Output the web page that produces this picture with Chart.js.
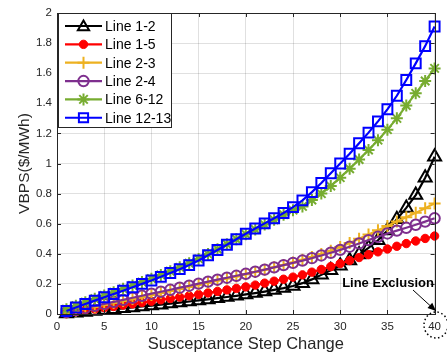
<!DOCTYPE html>
<html><head><meta charset="utf-8">
<script src="https://cdn.jsdelivr.net/npm/chart.js@4.4.0/dist/chart.umd.min.js"></script>
<style>html,body{margin:0;padding:0;background:#fff}#wrap{width:447px;height:356px;position:relative}</style>
</head><body><div id="wrap"><canvas id="c" width="447" height="356"></canvas></div>
<script>
const steps = [1,2,3,4,5,6,7,8,9,10,11,12,13,14,15,16,17,18,19,20,21,22,23,24,25,26,27,28,29,30,31,32,33,34,35,36,37,38,39,40];
const seriesNames = ['Line 1-2','Line 1-5','Line 2-3','Line 2-4','Line 6-12','Line 12-13'];
const line12 = [0.004,0.009,0.014,0.02,0.026,0.032,0.038,0.044,0.05,0.056,0.062,0.069,0.076,0.083,0.09,0.097,0.105,0.113,0.121,0.13,0.139,0.149,0.16,0.172,0.186,0.205,0.23,0.26,0.29,0.32,0.355,0.395,0.44,0.49,0.555,0.63,0.705,0.79,0.905,1.045];
const line15 = [0.008,0.016,0.025,0.033,0.042,0.05,0.059,0.067,0.076,0.085,0.094,0.103,0.112,0.121,0.13,0.14,0.15,0.16,0.17,0.18,0.192,0.205,0.218,0.231,0.245,0.26,0.278,0.296,0.315,0.335,0.355,0.375,0.394,0.413,0.432,0.45,0.468,0.485,0.502,0.518];
const line23 = [0.008,0.021,0.034,0.047,0.06,0.073,0.086,0.099,0.112,0.126,0.139,0.152,0.166,0.18,0.194,0.208,0.222,0.236,0.25,0.264,0.279,0.294,0.31,0.326,0.343,0.36,0.378,0.398,0.42,0.445,0.472,0.5,0.528,0.556,0.585,0.615,0.643,0.672,0.703,0.735];
const line24 = [0.012,0.026,0.04,0.054,0.067,0.081,0.094,0.108,0.121,0.135,0.148,0.161,0.175,0.188,0.202,0.215,0.228,0.241,0.254,0.267,0.281,0.295,0.31,0.325,0.34,0.355,0.371,0.389,0.407,0.426,0.447,0.469,0.491,0.513,0.535,0.554,0.573,0.593,0.614,0.636];
const line612 = [0.032,0.055,0.078,0.101,0.123,0.145,0.167,0.19,0.212,0.235,0.259,0.284,0.31,0.337,0.366,0.398,0.43,0.463,0.497,0.53,0.562,0.594,0.626,0.66,0.69,0.715,0.757,0.80,0.85,0.906,0.965,1.027,1.09,1.155,1.225,1.30,1.385,1.466,1.548,1.632];
const line1213 = [0.02,0.043,0.066,0.089,0.111,0.133,0.155,0.178,0.2,0.223,0.247,0.272,0.298,0.325,0.355,0.39,0.425,0.46,0.497,0.533,0.568,0.602,0.636,0.671,0.71,0.755,0.81,0.87,0.935,1.0,1.065,1.135,1.205,1.28,1.36,1.45,1.555,1.665,1.78,1.91];
const xTicks = [0,5,10,15,20,25,30,35,40];
const yTicks = [0,0.2,0.4,0.6,0.8,1,1.2,1.4,1.6,1.8,2];

const FONT = '"Liberation Sans", Arial, sans-serif';
const TXT = '#262626';
const styles = [
  {color:'#000000', marker:'triangle', r:7.5, fill:'rgba(0,0,0,0)', bw:2},
  {color:'#ff0000', marker:'circle', r:4.2, fill:'#ff0000', bw:1},
  {color:'#EDB120', marker:'cross', r:6, fill:'rgba(0,0,0,0)', bw:2},
  {color:'#7E2F8E', marker:'circle', r:5.2, fill:'rgba(0,0,0,0)', bw:2},
  {color:'#77AC30', marker:'star', r:6, fill:'rgba(0,0,0,0)', bw:2},
  {color:'#0000ff', marker:'rect', r:7, fill:'rgba(0,0,0,0)', bw:2}
];
const allSeries = [line12, line15, line23, line24, line612, line1213];

const datasets = allSeries.map((vals, i) => ({
  label: seriesNames[i],
  data: steps.map((s, k) => ({x: s, y: vals[k]})),
  borderColor: styles[i].color,
  backgroundColor: styles[i].color,
  borderWidth: 2.2,
  pointStyle: styles[i].marker,
  pointRadius: styles[i].r,
  pointBorderWidth: styles[i].bw,
  pointBorderColor: styles[i].color,
  pointBackgroundColor: styles[i].fill,
  pointHoverRadius: styles[i].r,
  tension: 0,
  clip: false,
  order: 6 - i
}));

function drawMarker(ctx, st, x, y) {
  const r = st.r;
  ctx.save();
  ctx.strokeStyle = st.color; ctx.fillStyle = st.fill; ctx.lineWidth = st.bw;
  ctx.beginPath();
  if (st.marker === 'triangle') {
    ctx.moveTo(x, y - r); ctx.lineTo(x + r*0.866, y + r*0.5); ctx.lineTo(x - r*0.866, y + r*0.5); ctx.closePath();
    ctx.fill(); ctx.stroke();
  } else if (st.marker === 'circle') {
    ctx.arc(x, y, r, 0, Math.PI*2); ctx.fill(); ctx.stroke();
  } else if (st.marker === 'cross') {
    ctx.moveTo(x - r, y); ctx.lineTo(x + r, y); ctx.moveTo(x, y - r); ctx.lineTo(x, y + r); ctx.stroke();
  } else if (st.marker === 'star') {
    for (let a = 0; a < 4; a++) { const t = a*Math.PI/4; ctx.moveTo(x - r*Math.cos(t), y - r*Math.sin(t)); ctx.lineTo(x + r*Math.cos(t), y + r*Math.sin(t)); }
    ctx.stroke();
  } else if (st.marker === 'rect') {
    const s = r*Math.SQRT1_2; ctx.rect(x - s, y - s, 2*s, 2*s); ctx.stroke();
  }
  ctx.restore();
}

const decor = {
  id: 'decor',
  afterDraw(chart) {
    const ctx = chart.ctx, a = chart.chartArea;
    const xs = chart.scales.x, ys = chart.scales.y;
    ctx.save();
    ctx.strokeStyle = TXT; ctx.lineWidth = 1;
    ctx.strokeRect(Math.round(a.left)+0.5, Math.round(a.top)+0.5, Math.round(a.right-a.left), Math.round(a.bottom-a.top));
    ctx.beginPath();
    xTicks.forEach(v => { const p = Math.round(xs.getPixelForValue(v))+0.5; ctx.moveTo(p, a.bottom); ctx.lineTo(p, a.bottom-4); ctx.moveTo(p, a.top); ctx.lineTo(p, a.top+4); });
    yTicks.forEach(v => { const p = Math.round(ys.getPixelForValue(v))+0.5; ctx.moveTo(a.left, p); ctx.lineTo(a.left+4, p); ctx.moveTo(a.right, p); ctx.lineTo(a.right-4, p); });
    ctx.stroke();
    // legend
    const lx = 58.5, ly = 13.5, lw = 113, lh = 114;
    ctx.fillStyle = '#fff'; ctx.fillRect(lx, ly, lw, lh);
    ctx.strokeStyle = '#262626'; ctx.lineWidth = 1; ctx.strokeRect(lx, ly, lw, lh);
    ctx.font = '14px ' + FONT; ctx.textBaseline = 'middle'; ctx.textAlign = 'left';
    seriesNames.forEach((name, i) => {
      const y = 26 + i*18.35;
      const st = Object.assign({}, styles[i], {r: Math.min(styles[i].r, 6.5)});
      ctx.strokeStyle = st.color; ctx.lineWidth = 2.2;
      ctx.beginPath(); ctx.moveTo(65, y); ctx.lineTo(102, y); ctx.stroke();
      drawMarker(ctx, st, 83.5, y + (st.marker==='triangle'?1:0));
      ctx.fillStyle = '#000'; ctx.fillText(name, 105, y + 1);
    });
    // annotation
    ctx.fillStyle = '#000'; ctx.font = 'bold 13px ' + FONT; ctx.textAlign = 'center';
    ctx.fillText('Line Exclusion', 388, 283);
    ctx.strokeStyle = '#000'; ctx.lineWidth = 1;
    const x1 = 413, y1 = 290, x2 = 436, y2 = 311;
    ctx.beginPath(); ctx.moveTo(x1, y1); ctx.lineTo(x2, y2); ctx.stroke();
    const ang = Math.atan2(y2-y1, x2-x1);
    ctx.beginPath(); ctx.moveTo(x2, y2);
    ctx.lineTo(x2 - 9*Math.cos(ang-0.4), y2 - 9*Math.sin(ang-0.4));
    ctx.lineTo(x2 - 9*Math.cos(ang+0.4), y2 - 9*Math.sin(ang+0.4));
    ctx.closePath(); ctx.fill();
    ctx.setLineDash([1.5, 2.5]); ctx.lineWidth = 1.5;
    ctx.beginPath(); ctx.ellipse(436, 325, 12, 13, 0, 0, Math.PI*2); ctx.stroke();
    ctx.restore();
  }
};

new Chart(document.getElementById('c'), {
  type: 'line',
  data: { datasets },
  options: {
    responsive: false, animation: false, devicePixelRatio: 1,
    layout: { padding: { top: 13, right: 8, left: 0, bottom: 0 } },
    plugins: { legend: { display: false }, tooltip: { enabled: false } },
    scales: {
      x: {
        type: 'linear', min: 0, max: 40,
        afterFit(s) { s.height = 42; },
        afterBuildTicks(s) { s.ticks = xTicks.map(v => ({value: v})); },
        grid: { color: 'rgba(0,0,0,0.12)', drawTicks: false, lineWidth: 1 },
        border: { display: false },
        ticks: { color: TXT, font: { family: FONT, size: 11.5 }, padding: 6, maxRotation: 0, callback: v => String(v) },
        title: { display: true, text: 'Susceptance Step Change', color: TXT, font: { family: FONT, size: 16.5 }, padding: { top: 0, bottom: 2 } }
      },
      y: {
        type: 'linear', min: 0, max: 2,
        afterFit(s) { s.width = 57; },
        afterBuildTicks(s) { s.ticks = yTicks.map(v => ({value: v})); },
        grid: { color: 'rgba(0,0,0,0.12)', drawTicks: false, lineWidth: 1 },
        border: { display: false },
        ticks: { color: TXT, font: { family: FONT, size: 11.5 }, padding: 5, callback: v => String(Math.round(v*10)/10) },
        title: { display: true, text: 'VBPS($/MWh)', color: TXT, font: { family: FONT, size: 15.5 }, padding: { top: 15, bottom: 0 } }
      }
    }
  },
  plugins: [decor]
});
</script>
</body></html>
